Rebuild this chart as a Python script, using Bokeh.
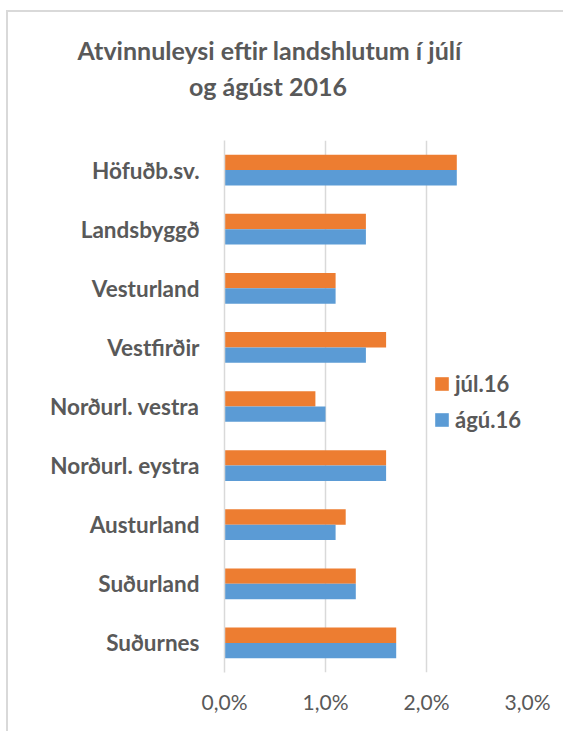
from bokeh.plotting import figure
from bokeh.models import (ColumnDataSource, FactorRange, Range1d, FixedTicker,
                          CustomJSTickFormatter, Legend, LegendItem, Title)
from bokeh.transform import dodge
from bokeh.embed import file_html
from bokeh.resources import INLINE

# ---- data (top to bottom) ----
regions = ["Höfuðb.sv.", "Landsbyggð", "Vesturland", "Vestfirðir",
           "Norðurl. vestra", "Norðurl. eystra", "Austurland", "Suðurland", "Suðurnes"]
jul16 = [2.3, 1.4, 1.1, 1.6, 0.9, 1.6, 1.2, 1.3, 1.7]
agu16 = [2.3, 1.4, 1.1, 1.4, 1.0, 1.6, 1.1, 1.3, 1.7]
series_names = ["júl.16", "ágú.16"]
x_ticks = [0, 1, 2, 3]
title_lines = ["Atvinnuleysi eftir landshlutum í júlí", "og ágúst 2016"]

FONT = "Lato"
TXT = "#595959"
ORANGE = "#ED7D31"
BLUE = "#5B9BD5"
GRID = "#d9d9d9"

src = ColumnDataSource(dict(region=regions, jul=jul16, agu=agu16))

p = figure(width=557, height=721, output_backend="svg", toolbar_location=None,
           title_location=None,
           y_range=FactorRange(*reversed(regions)), x_range=Range1d(0, 3),
           min_border_left=216, min_border_right=38, min_border_top=0,
           min_border_bottom=61)
p.outline_line_color = None
p.background_fill_color = "white"
p.border_fill_color = "white"
p.styles = {"border-left": "2px solid #d9d9d9", "border-top": "2px solid #d9d9d9",
            "margin-left": "6px", "margin-top": "10px"}

r1 = p.hbar(y=dodge("region", 0.13, range=p.y_range), right="jul", left=0,
            height=0.26, source=src, fill_color=ORANGE, line_color=None)
r2 = p.hbar(y=dodge("region", -0.13, range=p.y_range), right="agu", left=0,
            height=0.26, source=src, fill_color=BLUE, line_color=None)

# x axis
xa = p.xaxis[0]
xa.ticker = FixedTicker(ticks=x_ticks)
xa.formatter = CustomJSTickFormatter(code="return tick.toFixed(1).replace('.', ',') + '%';")
xa.axis_line_color = None
xa.major_tick_line_color = None
xa.minor_tick_line_color = None
xa.major_tick_out = 0
xa.major_label_standoff = 16
xa.major_label_text_font = FONT
xa.major_label_text_font_size = "21px"
xa.major_label_text_color = TXT

# y axis
ya = p.yaxis[0]
ya.axis_line_color = GRID
ya.axis_line_width = 1.5
ya.major_tick_line_color = None
ya.minor_tick_line_color = None
ya.major_tick_out = 0
ya.major_label_standoff = 25
ya.major_label_text_font = FONT
ya.major_label_text_font_size = "22.5px"
ya.major_label_text_font_style = "bold"
ya.major_label_text_color = TXT

p.ygrid.grid_line_color = None
p.xgrid.grid_line_color = GRID
p.xgrid.grid_line_width = 1.5

# legend
legend = Legend(items=[LegendItem(label=series_names[0], renderers=[r1]),
                       LegendItem(label=series_names[1], renderers=[r2])],
                location=(209, 239), orientation="vertical",
                glyph_width=17, glyph_height=17, label_standoff=5, spacing=9,
                padding=0, margin=0,
                label_text_font=FONT, label_text_font_size="22px",
                label_text_font_style="bold", label_text_color=TXT,
                border_line_color=None, background_fill_alpha=0)
p.add_layout(legend, "center")

# title: stacked panels above the frame (first added = closest to frame)
spacer_bottom = Title(text=" ", text_font_size="12px", standoff=20.6)
line2 = Title(text=title_lines[1], align="left", offset=-35.5, vertical_align="middle",
              text_font=FONT, text_font_size="25px", text_font_style="bold",
              text_color=TXT, standoff=4.0)
line1 = Title(text=title_lines[0], align="left", offset=-147, vertical_align="middle",
              text_font=FONT, text_font_size="25px", text_font_style="bold",
              text_color=TXT, standoff=4.0)
spacer_top = Title(text=" ", text_font_size="12px", standoff=2.6)
for t in (spacer_bottom, line2, line1, spacer_top):
    p.add_layout(t, "above")

open("out.html", "w").write(file_html(p, INLINE))
